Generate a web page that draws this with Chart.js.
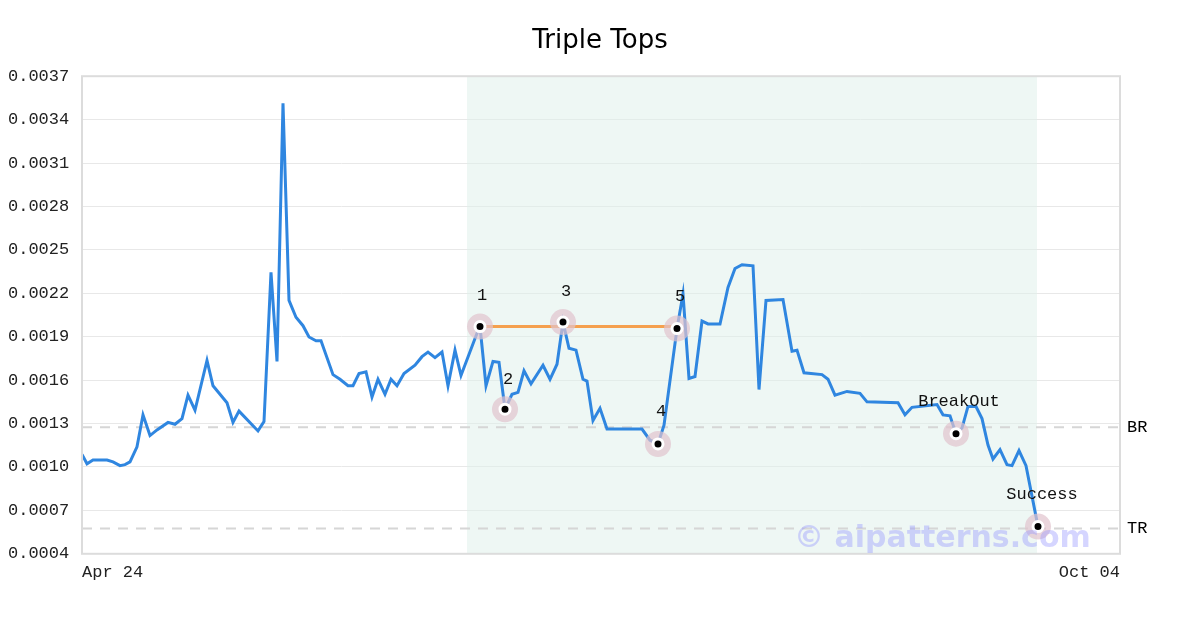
<!DOCTYPE html>
<html>
<head>
<meta charset="utf-8">
<script src="https://cdn.jsdelivr.net/npm/chart.js@4.4.1/dist/chart.umd.min.js"></script>
<style>
  html, body { margin: 0; padding: 0; background: #fff; }
  #wrap { width: 1200px; height: 630px; }
</style>
</head>
<body>
<div id="wrap"><canvas id="chart"></canvas></div>
<script>
// price line: [step, price]
const pricePoints = [
    [0, 0.001087], [5, 0.001022], [11, 0.001048], [25, 0.001048], [31, 0.001035], [38, 0.001009],
    [43, 0.001016], [48, 0.001035], [55, 0.001139], [61, 0.00136], [68, 0.001217], [75, 0.001256],
    [86, 0.001308], [93, 0.001295], [100, 0.001334], [106, 0.001496], [113, 0.001392], [125, 0.001736],
    [131, 0.001561], [145, 0.001444], [151, 0.001308], [157, 0.001386], [176, 0.001249], [182, 0.001314],
    [189, 0.002345], [195, 0.001729], [201, 0.003512], [207, 0.002151], [214, 0.002034], [221, 0.001976],
    [227, 0.001898], [234, 0.001872], [239, 0.001872], [251, 0.001638], [258, 0.001606], [266, 0.001561],
    [271, 0.001561], [277, 0.001645], [284, 0.001658], [290, 0.001483], [296, 0.001606], [303, 0.001502],
    [309, 0.001606], [315, 0.001561], [322, 0.001645], [333, 0.001703], [340, 0.001762], [346, 0.001794],
    [353, 0.001755], [360, 0.001794], [366, 0.001561], [373, 0.001807], [379, 0.001632], [395, 0.001924],
    [398, 0.00197], [404, 0.001561], [411, 0.001729], [417, 0.001723], [423, 0.001399], [430, 0.001502],
    [436, 0.001515], [442, 0.001664], [449, 0.001574], [461, 0.001703], [468, 0.001606], [475, 0.00171],
    [481, 0.002001], [487, 0.00182], [494, 0.001807], [501, 0.001606], [505, 0.001593], [511, 0.001321],
    [518, 0.001405], [525, 0.001262], [560, 0.001262], [568, 0.001185], [576, 0.001159], [582, 0.001288],
    [595, 0.001956], [601, 0.002196], [607, 0.001612], [613, 0.001625], [620, 0.002008], [626, 0.001988],
    [638, 0.001988], [646, 0.002241], [653, 0.002371], [660, 0.002397], [671, 0.00239], [677, 0.001535],
    [684, 0.002151], [701, 0.002157], [710, 0.0018], [715, 0.001807], [722, 0.001651], [740, 0.001638],
    [746, 0.001606], [753, 0.001496], [765, 0.001522], [778, 0.001509], [785, 0.00145], [816, 0.001444],
    [823, 0.00136], [830, 0.001412], [855, 0.001431], [861, 0.00136], [868, 0.001353], [874, 0.00123],
    [880, 0.001269], [886, 0.001418], [894, 0.001418], [900, 0.001334], [906, 0.001152], [911, 0.001055],
    [918, 0.00112], [925, 0.001016], [930, 0.001009], [937, 0.001113], [944, 0.001009], [956, 0.000588]
];

// pattern markers
const markerLabels = ['1', '2', '3', '4', '5', 'BreakOut', 'Success'];
const markerSteps = [398, 423, 481, 576, 595, 874, 956];
const markerValues = [0.00197, 0.001399, 0.002001, 0.001159, 0.001956, 0.00123, 0.000588];

const topLine = [[398, 0.00197], [595, 0.00197]];
const levelNames = ['BR', 'TR'];
const levelValues = [0.001275, 0.000575];
const patternRange = [385, 955];

const xTickLabels = ['Apr 24', 'Oct 04'];
const xTickSteps = [0, 1038];
const yTicks = [0.0004, 0.0007, 0.001, 0.0013, 0.0016, 0.0019, 0.0022, 0.0025, 0.0028, 0.0031, 0.0034, 0.0037];

const MONO = '"Liberation Mono", "DejaVu Sans Mono", monospace';

const toXY = arr => arr.map(p => ({ x: p[0], y: p[1] }));
const markerData = markerSteps.map((s, i) => ({ x: s, y: markerValues[i] }));

// label offsets in pixels relative to marker
const labelOffsets = [[2, -31], [3, -30], [3, -31], [3, -32], [3, -32], [3, -32], [4, -32]];

const decorPlugin = {
    id: 'decor',
    beforeDatasetsDraw(chart) {
        const { ctx, chartArea: a, scales: { x, y } } = chart;
        ctx.save();
        ctx.fillStyle = 'rgba(222, 240, 233, 0.5)';
        const x0 = x.getPixelForValue(patternRange[0]);
        const x1 = x.getPixelForValue(patternRange[1]);
        ctx.fillRect(x0, a.top, x1 - x0, a.bottom - a.top);
        ctx.strokeStyle = '#d6d6d6';
        ctx.lineWidth = 2;
        ctx.setLineDash([10, 8]);
        levelValues.forEach(v => {
            const py = y.getPixelForValue(v);
            ctx.beginPath();
            ctx.moveTo(a.left, py);
            ctx.lineTo(a.right, py);
            ctx.stroke();
        });
        ctx.restore();
    },
    afterDraw(chart) {
        const { ctx, chartArea: a, scales: { x, y } } = chart;
        ctx.save();
        // plot frame
        ctx.strokeStyle = '#dcdcdc';
        ctx.lineWidth = 2;
        ctx.strokeRect(a.left, a.top, a.right - a.left, a.bottom - a.top);
        // title
        ctx.fillStyle = '#000';
        ctx.font = '26px "DejaVu Sans", Verdana, sans-serif';
        ctx.textAlign = 'center';
        ctx.textBaseline = 'alphabetic';
        ctx.fillText('Triple Tops', 600, 48);
        // level names
        ctx.font = '17px ' + MONO;
        ctx.textAlign = 'left';
        ctx.textBaseline = 'middle';
        levelNames.forEach((n, i) => ctx.fillText(n, a.right + 7, y.getPixelForValue(levelValues[i])));
        // watermark
        ctx.font = 'bold 30px "DejaVu Sans", sans-serif';
        ctx.fillStyle = 'rgba(150, 150, 255, 0.4)';
        ctx.fillText('\u00a9 aipatterns.com', 794, 539);
        // marker labels
        ctx.fillStyle = '#111';
        ctx.font = '17px ' + MONO;
        ctx.textAlign = 'center';
        markerData.forEach((p, i) => {
            const px = x.getPixelForValue(p.x) + labelOffsets[i][0];
            const py = y.getPixelForValue(p.y) + labelOffsets[i][1];
            ctx.fillText(markerLabels[i], px, py);
        });
        ctx.restore();
    }
};

new Chart(document.getElementById('chart'), {
    type: 'line',
    data: {
        datasets: [
            {
                data: toXY(pricePoints),
                borderColor: '#2f86e0',
                borderWidth: 3,
                pointRadius: 0,
                tension: 0,
                order: 3
            },
            {
                data: toXY(topLine),
                borderColor: '#f5a04e',
                borderWidth: 3,
                pointRadius: 0,
                order: 2
            },
            {
                data: markerData,
                showLine: false,
                pointRadius: 13,
                pointBackgroundColor: 'rgba(225, 195, 205, 0.7)',
                pointBorderWidth: 0,
                order: 1
            },
            {
                data: markerData,
                showLine: false,
                pointRadius: 5,
                pointBackgroundColor: '#000',
                pointBorderColor: '#fff',
                pointBorderWidth: 3,
                order: 0
            }
        ]
    },
    options: {
        responsive: true,
        maintainAspectRatio: false,
        animation: false,
        layout: { padding: { top: 36, right: 80, left: 8, bottom: 0 } },
        plugins: {
            legend: { display: false },
            tooltip: { enabled: false }
        },
        scales: {
            x: {
                type: 'linear',
                min: 0,
                max: 1038,
                afterBuildTicks: s => { s.ticks = xTickSteps.map(v => ({ value: v })); },
                afterFit: s => { s.height = 38; },
                grid: { display: false },
                border: { display: false },
                ticks: {
                    color: '#222',
                    font: { family: MONO, size: 17 },
                    padding: 0,
                    align: 'inner',
                    maxRotation: 0,
                    callback: (v) => xTickLabels[xTickSteps.indexOf(v)]
                }
            },
            y: {
                min: 0.0004,
                max: 0.0037,
                afterBuildTicks: s => { s.ticks = yTicks.map(v => ({ value: v })); },
                afterFit: s => { s.width = 74; },
                grid: { color: '#e8e8e8', lineWidth: 1, drawTicks: false },
                border: { display: false },
                ticks: {
                    color: '#222',
                    font: { family: MONO, size: 17 },
                    padding: 66,
                    crossAlign: 'far',
                    callback: v => v.toFixed(4)
                }
            }
        }
    },
    plugins: [decorPlugin]
});
</script>
</body>
</html>
